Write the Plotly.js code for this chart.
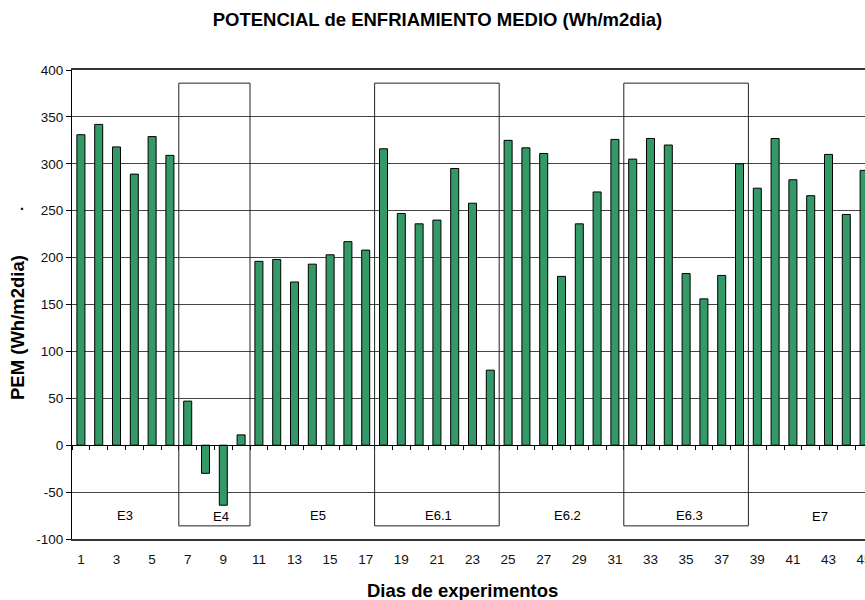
<!DOCTYPE html>
<html>
<head>
<meta charset="utf-8">
<script src="https://cdn.plot.ly/plotly-3.0.1.min.js"></script>
<style>html,body{margin:0;padding:0;overflow:hidden;background:#fff}
#wrap{width:865px;height:600px;overflow:hidden;position:relative}</style>
</head>
<body>
<div id="wrap"><div id="chart" style="width:880px;height:600px;"></div></div>
<script>
// Days of experiment (categories)
var days = [1,2,3,4,5,6,7,8,9,10,11,12,13,14,15,16,17,18,19,20,21,22,23,24,25,26,27,28,29,30,31,32,33,34,35,36,37,38,39,40,41,42,43,44,45];
// PEM values (Wh/m2dia)
var pem = [331,342,318,289,329,309,47,-30,-64,11,
           196,198,174,193,203,217,208,316,247,236,
           240,295,258,80,325,317,311,180,236,270,
           326,305,327,320,183,156,181,300,274,327,
           283,266,310,246,293];
// Tick labels (odd days)
var tickDays = [1,3,5,7,9,11,13,15,17,19,21,23,25,27,29,31,33,35,37,39,41,43,45];
var yTicks = [-100,-50,0,50,100,150,200,250,300,350,400];
var yTickText = ["-100","-50","0","50","100","150","200","250","300","350","400"];
// Experiment groups
var groupNames  = ["E3","E4","E5","E6.1","E6.2","E6.3","E7"];
var groupStart  = [1,7,11,18,25,32,39];
var groupEnd    = [6,10,17,24,31,38,46];
var groupBoxed  = [false,true,false,true,false,true,false];
var groupLabelX = [3.46,8.85,14.32,21.1,28.35,35.2,42.5];
var groupLabelY = [-74.6,-76.5,-74.6,-74.6,-74.6,-74.6,-76.5];

var font = "Arial, 'Liberation Sans', sans-serif";
var W = 880, PL = 72, PW = W - PL;

var shapes = [];
var annotations = [];
for (var i = 0; i < groupNames.length; i++) {
  if (groupBoxed[i]) {
    shapes.push({type:"rect", xref:"x", yref:"y",
      x0: groupStart[i]-0.5, x1: groupEnd[i]+0.5, y0: -86, y1: 386,
      line:{color:"#222", width:1}, fillcolor:"rgba(0,0,0,0)", layer:"above"});
  }
  annotations.push({xref:"x", yref:"y", x:groupLabelX[i], y:groupLabelY[i], yanchor:"middle",
    text: groupNames[i], showarrow:false, font:{family:font, size:13, color:"#000"}});
}
// axis titles
annotations.push({xref:"paper", yref:"paper", x:(462-PL)/PW, xanchor:"center", y:(539-590)/469, yanchor:"middle",
  text:"<b>Dias de experimentos</b>", showarrow:false, font:{family:font, size:18.5, color:"#000"}});
annotations.push({xref:"paper", yref:"paper", x:(17.5-PL)/PW, xanchor:"center", y:(539-327.5)/469, yanchor:"middle",
  text:"<b>PEM (Wh/m2dia)</b>", textangle:-90, showarrow:false, font:{family:font, size:18.5, color:"#000"}});
annotations.push({xref:"paper", yref:"paper", x:(21.7-PL)/PW, xanchor:"center", y:(539-205)/469, yanchor:"middle",
  text:"<b>.</b>", showarrow:false, font:{family:font, size:14, color:"#000"}});

var boundaries = days.map(function(d){ return d + 0.5; });
boundaries.unshift(0.5);

var trace = {
  type:"bar", x: days, y: pem, width: 0.45,
  marker:{color:"#339966", line:{color:"#000", width:1}},
  hoverinfo:"x+y"
};

var xr = [0.5, 0.5 + PW/17.8];
var layout = {
  width:W, height:600,
  margin:{l:PL, r:0, t:70, b:61},
  paper_bgcolor:"#fff", plot_bgcolor:"#fff",
  showlegend:false,
  title:{text:"<b>POTENCIAL de ENFRIAMIENTO MEDIO (Wh/m2dia)</b>", x:437.5/W, xanchor:"center",
         y:1-20/600, yanchor:"middle", font:{family:font, size:18.5, color:"#000"}},
  xaxis:{range:xr, tickvals:tickDays, ticktext:tickDays.map(String),
         ticks:"outside", ticklen:7, tickcolor:"rgba(0,0,0,0)",
         showgrid:false, zeroline:false, showline:true, linecolor:"#333", linewidth:2, mirror:true,
         tickfont:{family:font, size:13.5, color:"#111"}},
  xaxis2:{overlaying:"x", anchor:"free", position:0.2, side:"bottom",
          range:xr, tickvals:boundaries, ticks:"outside", ticklen:4,
          tickcolor:"#000", showticklabels:false, showgrid:false, zeroline:false,
          showline:true, linecolor:"#000", linewidth:1},
  yaxis:{range:[-100,400], tickvals:yTicks, ticktext:yTickText,
         ticks:"outside", ticklen:5, tickcolor:"#000", showline:true, linecolor:"#000", linewidth:1,
         showgrid:true, gridcolor:"#444", gridwidth:1, zeroline:false,
         tickfont:{family:font, size:13.5, color:"#111"}},
  shapes:shapes,
  annotations:annotations,
  bargap:0
};

var trace2 = {type:"scatter", x:[days[0]], y:[null], xaxis:"x2", yaxis:"y", hoverinfo:"skip", showlegend:false};

Plotly.newPlot("chart", [trace, trace2], layout, {displayModeBar:false, staticPlot:true});
</script>
</body>
</html>
